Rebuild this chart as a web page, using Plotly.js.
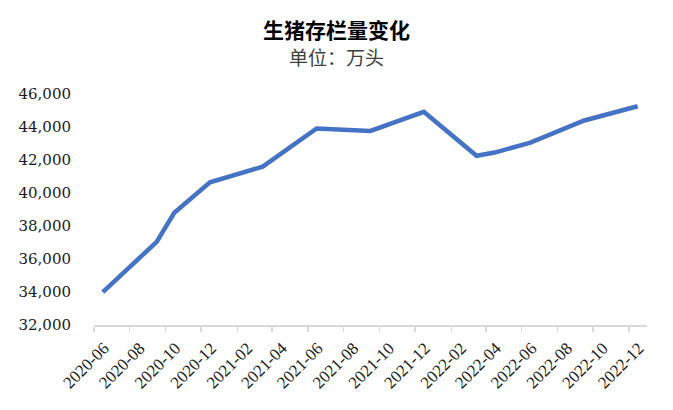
<!DOCTYPE html>
<html>
<head>
<meta charset="utf-8">
<script src="https://cdn.plot.ly/plotly-3.0.1.min.js"></script>
<style>
  html, body { margin: 0; padding: 0; background: #fff; }
  #chart { width: 673px; height: 410px; outline: 2px solid #d9d9d9; outline-offset: -2px; }
</style>
</head>
<body>
<div id="chart"></div>
<script>
// Data (万头)
const months = ["2020-06","2020-09","2020-10","2020-12","2021-03","2021-06","2021-09","2021-12","2022-03","2022-04","2022-06","2022-09","2022-12"];
const inventory = [33996, 37039, 38800, 40650, 41595, 43911, 43764, 44922, 42253, 42450, 43057, 44394, 45256];
const titleText = "生猪存栏量变化";
const subtitleText = "单位：万头";

// place each monthly value mid-month, like a month-based date axis
const xDates = months.map(m => m + "-16");

const serifX = "'Liberation Serif', 'Times New Roman', serif";
const serifY = "'DejaVu Serif', 'Liberation Serif', serif";

const trace = {
  x: xDates,
  y: inventory,
  type: "scatter",
  mode: "lines",
  line: { color: "#4472C4", width: 4.5 },
  hoverinfo: "x+y"
};

const layout = {
  width: 673,
  height: 410,
  margin: { l: 94, r: 26, t: 94, b: 85 },
  paper_bgcolor: "#ffffff",
  plot_bgcolor: "#ffffff",
  showlegend: false,
  title: {
    text: "<b>" + titleText + "</b><br><span style='font-size:19px;font-weight:normal;color:#404040'>" + subtitleText + "</span>",
    font: { family: "Noto Sans CJK SC, sans-serif", size: 21, color: "#000000" },
    x: 0.5, xanchor: "center",
    xref: "container",
    y: 1 - 38 / 410, yanchor: "top", yref: "container"
  },
  xaxis: {
    type: "date",
    range: ["2020-06-01", "2023-01-01"],
    tick0: "2020-06-01",
    dtick: "M2",
    tickformat: "%Y-%m",
    tickangle: -45,
    ticks: "outside",
    ticklen: 5,
    tickwidth: 1.5,
    tickcolor: "#d9d9d9",
    ticklabelshift: 10,
    showline: true,
    linecolor: "#d9d9d9",
    linewidth: 1.5,
    showgrid: false,
    zeroline: false,
    tickfont: { family: serifX, size: 17, color: "#1a1a1a" },
    fixedrange: true
  },
  yaxis: {
    range: [32000, 46000],
    dtick: 2000,
    tick0: 32000,
    tickformat: ",d",
    showline: false,
    showgrid: false,
    zeroline: false,
    ticks: "",
    ticklabelstandoff: 22,
    tickfont: { family: serifY, size: 15, color: "#1a1a1a" },
    fixedrange: true
  }
};

Plotly.newPlot("chart", [trace], layout, { displayModeBar: false, staticPlot: true });
</script>
</body>
</html>
